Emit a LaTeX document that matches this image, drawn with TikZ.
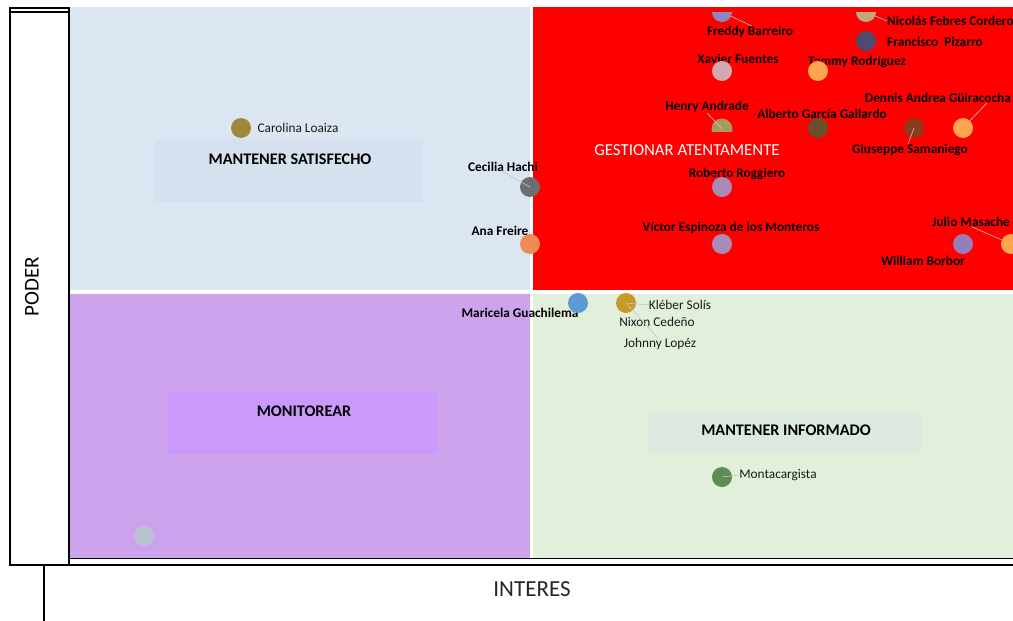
\documentclass[tikz,border=0pt]{standalone}
\usepackage{fontspec}
\setmainfont{Carlito}
\definecolor{qblue}{RGB}{220,230,242}
\definecolor{qbluebox}{RGB}{214,225,240}
\definecolor{qred}{RGB}{255,0,0}
\definecolor{qpurple}{RGB}{205,163,238}
\definecolor{qpurplebox}{RGB}{202,153,251}
\definecolor{qgreen}{RGB}{226,239,218}
\definecolor{qgreenbox}{RGB}{221,233,224}
\definecolor{cFreddy}{RGB}{142,134,192}
\definecolor{cNicolas}{RGB}{192,168,120}
\definecolor{cFrancisco}{RGB}{79,74,110}
\definecolor{cXavier}{RGB}{212,169,174}
\definecolor{cOrange}{RGB}{255,165,79}
\definecolor{cHenry}{RGB}{166,154,92}
\definecolor{cAlberto}{RGB}{107,78,42}
\definecolor{cGiuseppe}{RGB}{139,58,26}
\definecolor{cLilac}{RGB}{169,139,184}
\definecolor{cWilliam}{RGB}{149,127,184}
\definecolor{cCecilia}{RGB}{110,110,114}
\definecolor{cAna}{RGB}{238,139,85}
\definecolor{cCarolina}{RGB}{160,136,56}
\definecolor{cMaricela}{RGB}{91,155,213}
\definecolor{cKleber}{RGB}{201,154,42}
\definecolor{cMonta}{RGB}{94,140,85}
\definecolor{cGray}{RGB}{185,194,207}
\begin{document}
\begin{tikzpicture}[x=1pt,y=-1pt,
  dot/.style={circle,inner sep=0pt,minimum size=20pt},
  nmb/.style={font=\bfseries\fontsize{13.3}{15}\selectfont,text=black,inner sep=0pt},
  nmr/.style={font=\fontsize{13.3}{15}\selectfont,text=black!90,inner sep=0pt},
  qtitle/.style={font=\bfseries\fontsize{16.2}{18}\selectfont,text=black,inner sep=0pt},
  qbox/.style={inner sep=0pt,anchor=north west},
  leader/.style={draw=gray!45,line width=0.6pt},
  frame/.style={draw=black,line width=1.2pt}]
\useasboundingbox (0,0) rectangle (1013,621);
\fill[white] (0,0) rectangle (1013,621);
% quadrants
\fill[qblue] (70,7) rectangle (530,290);
\fill[qred] (533,7) rectangle (1013,290);
\fill[qpurple] (70,294) rectangle (530,558);
\fill[qgreen] (533,294) rectangle (1013,558);
% quadrant label boxes
\node[qbox,fill=qbluebox,minimum width=268pt,minimum height=63pt] (bsat) at (155,139) {};
\node[qbox,fill=qpurplebox,minimum width=269pt,minimum height=62pt] (bmon) at (168,392) {};
\node[qbox,fill=qgreenbox,minimum width=273pt,minimum height=41pt] (binf) at (648,412) {};
\node[qtitle] (tsat) at (290,159) {MANTENER SATISFECHO};
\node[qtitle] (tmon) at (304,411) {MONITOREAR};
\node[qtitle] (tinf) at (786,430) {MANTENER INFORMADO};
\node[font=\fontsize{16.8}{18}\selectfont,text=white,inner sep=0pt] (tges) at (687,150) {GESTIONAR ATENTAMENTE};
% frames / axes
\draw[frame] (10,8) rectangle (69,565);
\draw[frame] (10,12) -- (69,12);
\draw[frame] (69,558.5) -- (1014,558.5);
\draw[frame] (10,565) -- (1014,565);
\draw[frame] (44,565) -- (44,622);
\node[font=\fontsize{21}{23}\selectfont,rotate=90,inner sep=0pt] (poder) at (32,287) {PODER};
\node[font=\fontsize{23}{25}\selectfont,text=black!85,inner sep=0pt] (interes) at (532,589) {INTERES};
% labels
\node[nmb] (lfb) at (750,32) {Freddy Barreiro};
\node[nmb,anchor=west] (lnf) at (887,21) {Nicolás Febres Cordero};
\node[nmb,anchor=west] (lfp) at (887,42) {Francisco\ \ Pizarro};
\node[nmb] (lxf) at (738,59) {Xavier Fuentes};
\node[nmb] (ltr) at (857,62) {Tammy Rodríguez};
\node[nmb,anchor=east] (lda) at (1011,98) {Dennis Andrea Güiracocha};
\node[nmb] (lha) at (707,107) {Henry Andrade};
\node[nmb] (lag) at (822,114) {Alberto García Gallardo};
\node[nmb] (lgs) at (910,150) {Giuseppe Samaniego};
\node[nmb] (lrr) at (737,174) {Roberto Roggiero};
\node[nmb] (lve) at (731,228) {Víctor Espinoza de los Monteros};
\node[nmb] (ljm) at (971,222) {Julio Masache};
\node[nmb] (lwb) at (923,261) {William Borbor};
\node[nmb] (lch) at (503,167) {Cecilia Hachi};
\node[nmb] (laf) at (500,231) {Ana Freire};
\node[nmb] (lmg) at (520,313) {Maricela Guachilema};
\node[nmr] (lcl) at (298,128) {Carolina Loaiza};
\node[nmr] (lks) at (680,305) {Kléber Solís};
\node[nmr] (lnc) at (657,322) {Nixon Cedeño};
\node[nmr] (ljl) at (660,344) {Johnny Lopéz};
\node[nmr] (lmo) at (778,475) {Montacargista};
% dots
\begin{scope}
\clip (533,12) rectangle (1013,290);
\node[dot,fill=cFreddy] (dfb) at (722,12) {};
\node[dot,fill=cNicolas] (dnf) at (866,12) {};
\end{scope}
\begin{scope}
\clip (700,100) rectangle (745,131);
\node[dot,fill=cHenry,minimum size=21pt] (dha) at (722,129) {};
\end{scope}
\begin{scope}
\clip (980,220) rectangle (1013,270);
\node[dot,fill=cOrange] (djm) at (1011,244) {};
\end{scope}
\node[dot,fill=cFrancisco] (dfp) at (866,41) {};
\node[dot,fill=cXavier] (dxf) at (722,71) {};
\node[dot,fill=cOrange] (dtr) at (818,71) {};
\node[dot,fill=cAlberto] (dag) at (818,128) {};
\node[dot,fill=cGiuseppe] (dgs) at (914,128) {};
\node[dot,fill=cOrange] (dda) at (963,128) {};
\node[dot,fill=cLilac] (drr) at (722,187) {};
\node[dot,fill=cLilac] (dve) at (722,244) {};
\node[dot,fill=cWilliam] (dwb) at (963,244) {};
\node[dot,fill=cCecilia] (dch) at (530,187) {};
\node[dot,fill=cAna] (daf) at (530,244) {};
\node[dot,fill=cCarolina] (dcl) at (241,128) {};
\node[dot,fill=cMaricela] (dmg) at (578,303) {};
\node[dot,fill=cKleber] (dks) at (626,303) {};
\node[dot,fill=cMonta] (dmo) at (722,477) {};
\node[dot,fill=cGray] (dgr) at (144,536) {};
% leaders
\draw[leader] (dfb) -- ([xshift=2pt]lfb.north);
\draw[leader] (dnf) -- (lnf.west);
\draw[leader] (dda) -- ([xshift=-24pt]lda.south east);
\draw[leader] (dgs.center) -- ([xshift=-2pt]lgs.north);
\draw[leader] (dha.center) -- (lha.south);
\draw[leader] (djm) -- ([xshift=-38pt]ljm.south east);
\draw[leader] (dch.center) -- (lch.south);
\draw[leader] (dks.center) -- (lks.west);
\draw[leader] (dks.center) -- ([xshift=-2pt]ljl.north);
\draw[leader] (dmo.center) -- (lmo.west);
\end{tikzpicture}
\end{document}
